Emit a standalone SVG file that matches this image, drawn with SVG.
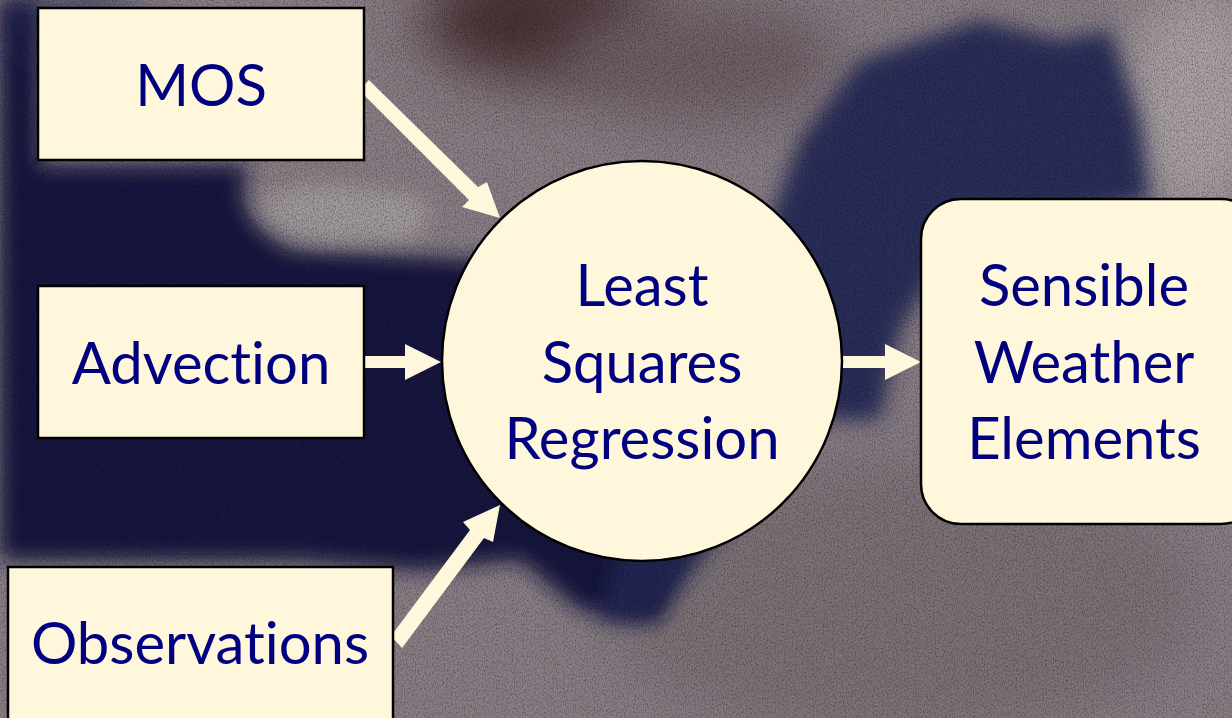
<svg xmlns="http://www.w3.org/2000/svg" width="1232" height="718" viewBox="0 0 1232 718">
<style>
.box{fill:#FEF7DC;stroke:#000;stroke-width:2.5}
.lbl{font-family:Lato,"Open Sans",sans-serif;font-size:58px;fill:#000080;text-anchor:middle;font-variant-ligatures:none;font-feature-settings:"liga" 0}
.arr{fill:#FEF7DC}
</style>
<defs>
<filter id="blur30" x="-50%" y="-50%" width="200%" height="200%"><feGaussianBlur stdDeviation="28"/></filter>
<filter id="blur12" x="-50%" y="-50%" width="200%" height="200%"><feGaussianBlur stdDeviation="10"/></filter>
<filter id="tex" x="0" y="0" width="100%" height="100%">
<feTurbulence type="fractalNoise" baseFrequency="0.9 0.5" numOctaves="2" seed="3" result="n"/>
<feColorMatrix in="n" type="matrix" values="0 0 0 0 0  0 0 0 0 0  0 0 0 0 0  0 0 -1.6 0 0.95" />
</filter>
</defs>
<g id="background">
<rect width="1232" height="718" fill="#8a7f86"/>
<ellipse cx="540" cy="20" rx="120" ry="60" fill="#4a3036" filter="url(#blur30)"/>
<ellipse cx="700" cy="60" rx="140" ry="60" fill="#6e5e66" filter="url(#blur30)"/>
<ellipse cx="1200" cy="100" rx="80" ry="120" fill="#aaa2a4" filter="url(#blur30)"/>
<ellipse cx="900" cy="600" rx="300" ry="140" fill="#7d7278" filter="url(#blur30)"/>
<!-- navy left mass -->
<path d="M0 0 L40 0 L40 165 L250 165 Q225 215 290 250 L440 258 L520 262 L560 300 L580 420 L620 520 L680 560 L660 620 L580 610 L520 560 L420 570 L300 560 L140 560 L0 560 Z" fill="#12163f" filter="url(#blur12)"/>
<path d="M0 0 L150 0 L90 60 L40 40 Z" fill="#2a2f5a" filter="url(#blur30)"/>
<path d="M260 205 Q280 180 340 185 L420 195 Q440 225 410 240 L330 242 Q275 235 260 205 Z" fill="#a39b9e" filter="url(#blur12)"/>
<!-- navy right mass -->
<path d="M800 140 L860 60 L980 20 L1060 40 L1110 30 L1140 120 L1150 200 L1050 220 L960 230 L900 330 L880 420 L820 420 L790 320 L770 220 Z" fill="#2b2d5a" filter="url(#blur12)"/>
<path d="M620 540 L700 520 L760 480 L800 420 L760 480 L700 560 L650 620 L600 620 Z" fill="#222552" filter="url(#blur12)"/>
<rect width="1232" height="718" filter="url(#tex)" opacity="0.45"/>
</g>
<g id="connectors">
<polygon class="arr" points="369,80 379,90 478,187 487,182 500,218 462,207 469,200 369,100 359,90"/>
<polygon class="arr" points="364,356 405,356 405,344 441,362 405,380 405,368 364,368"/>
<polygon class="arr" points="843,356 885,356 885,344 921,362 885,380 885,368 843,368"/>
<polygon class="arr" points="391,636 470,530 463,522 500,505 493,542 484,538 402,648"/>
</g>
<g id="node-mos">
<rect class="box" x="38" y="8" width="326" height="152"/>
<text class="lbl" x="201" y="106">MOS</text>
</g>
<g id="node-advection">
<rect class="box" x="38" y="286" width="326" height="152"/>
<text class="lbl" x="201" y="384">Advection</text>
</g>
<g id="node-observations">
<rect class="box" x="8" y="567" width="385" height="170"/>
<text class="lbl" x="200" y="664">Observations</text>
</g>
<g id="node-regression">
<circle class="box" cx="642" cy="361" r="200"/>
<text class="lbl" x="642" y="306">Least</text>
<text class="lbl" x="642" y="383">Squares</text>
<text class="lbl" x="642" y="459">Regression</text>
</g>
<g id="node-sensible">
<rect class="box" x="921" y="199" width="340" height="325" rx="40"/>
<text class="lbl" x="1084" y="306">Sensible</text>
<text class="lbl" x="1084" y="383">Weather</text>
<text class="lbl" x="1084" y="459">Elements</text>
</g>
</svg>
